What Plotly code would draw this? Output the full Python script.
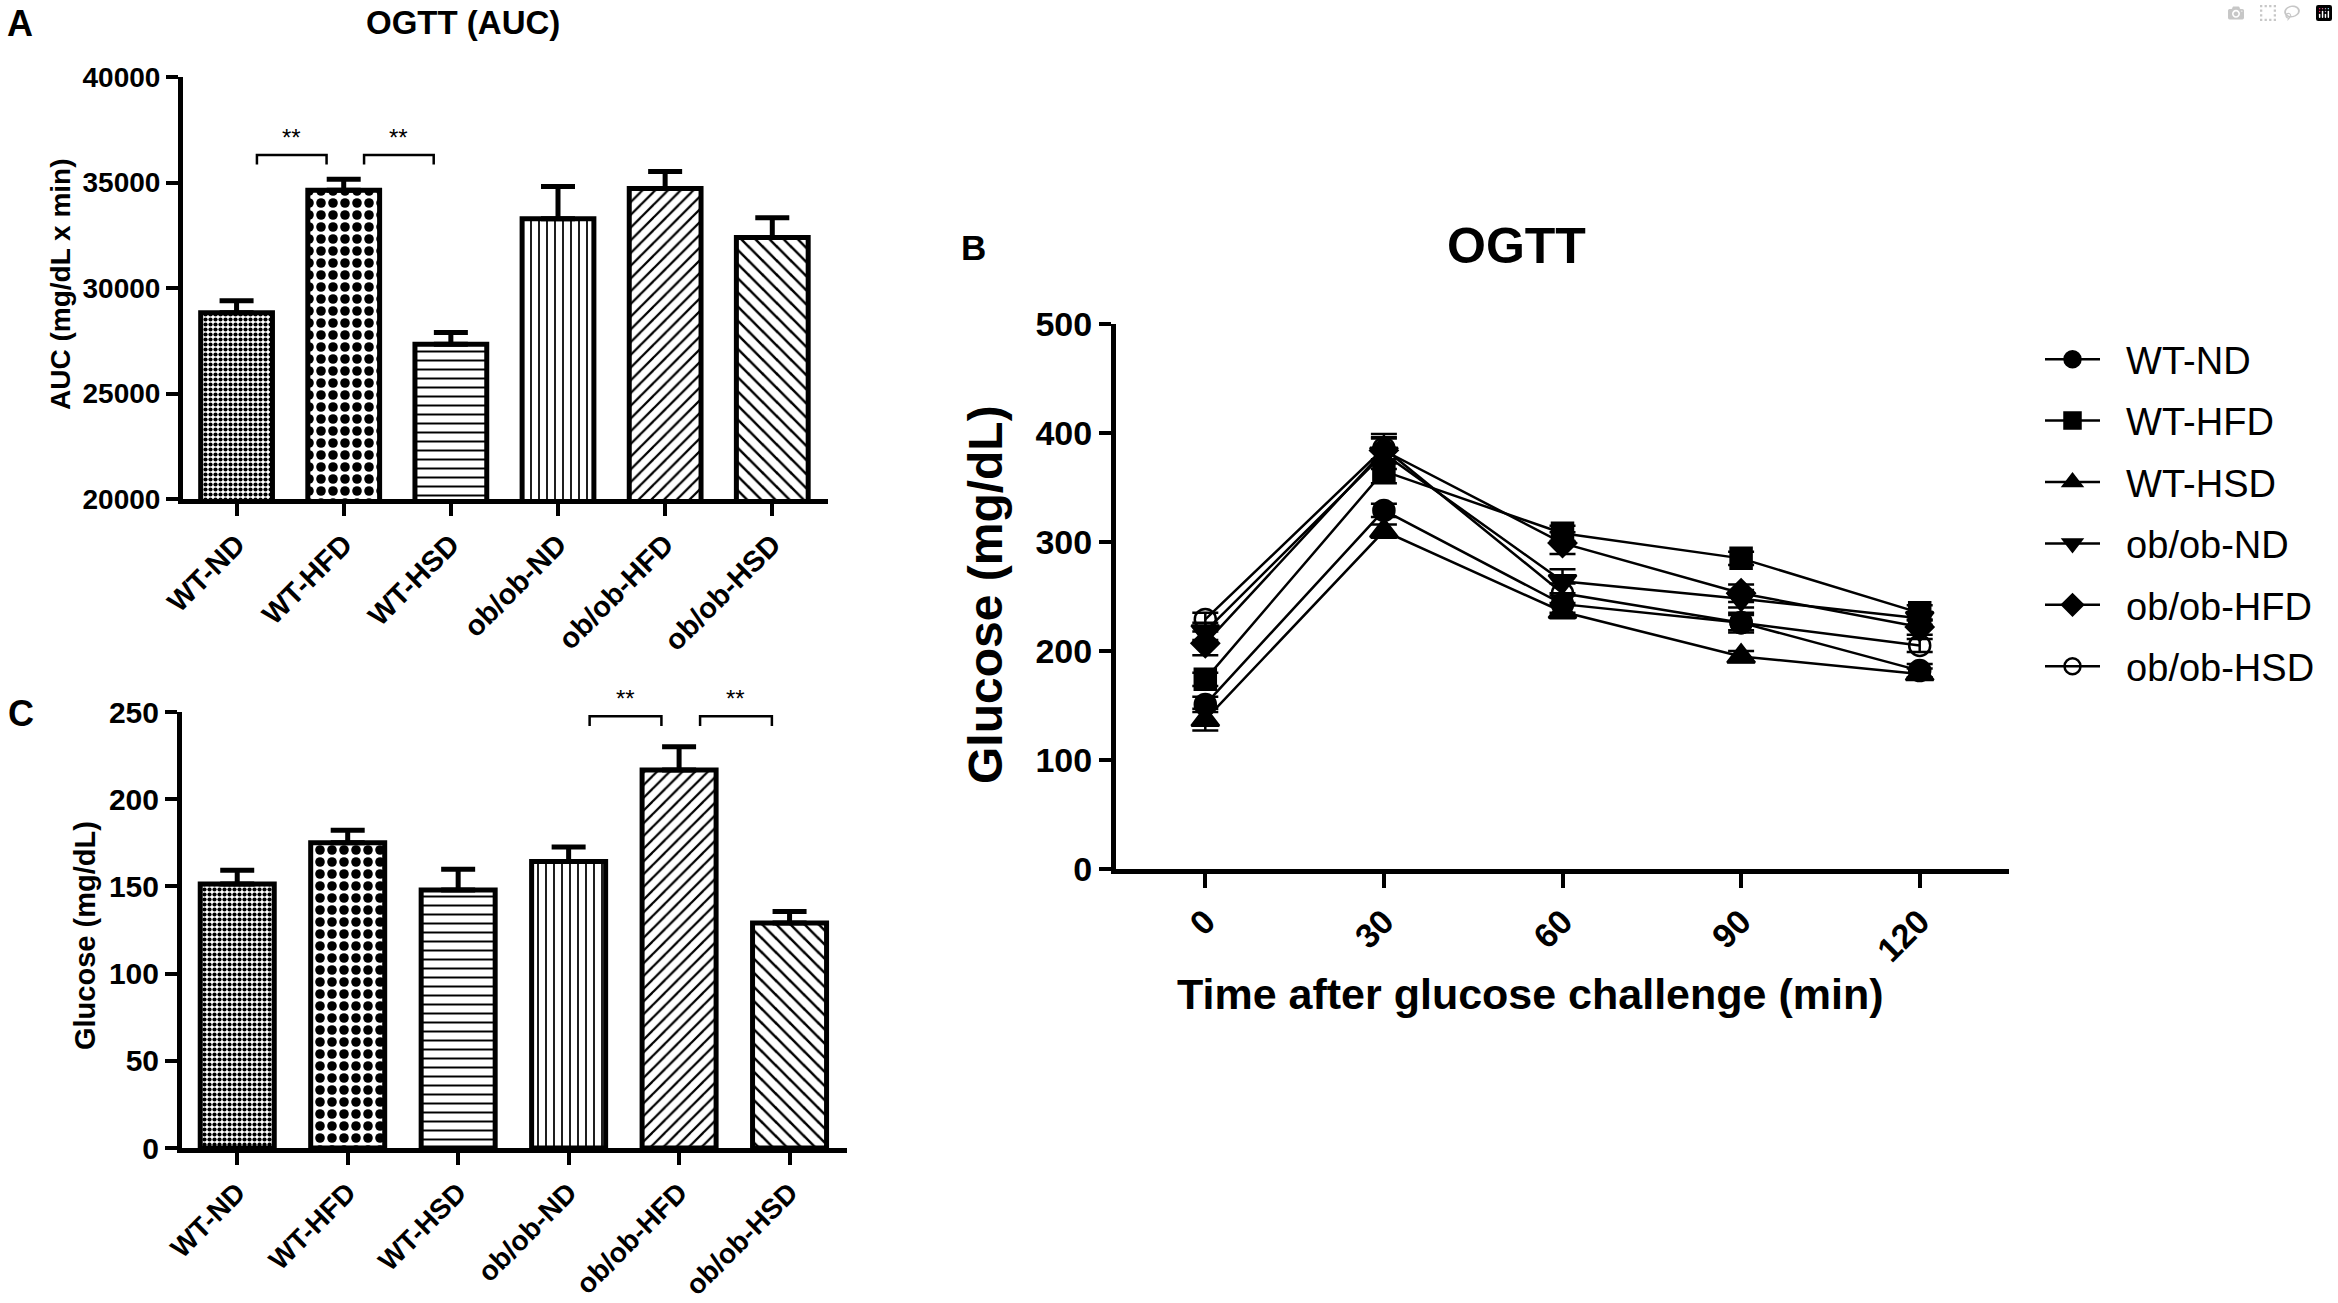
import plotly.graph_objects as go

W, H = 2338, 1303
FONT = "Liberation Sans, Arial, sans-serif"

groups = ['WT-ND', 'WT-HFD', 'WT-HSD', 'ob/ob-ND', 'ob/ob-HFD', 'ob/ob-HSD']

# A: OGTT area under curve (mg/dL x min), mean and SEM
auc_mean = [28830, 34630, 27330, 33280, 34720, 32390]
auc_sem = [560, 520, 560, 1530, 800, 940]
auc_sig = [(0, 1, 36300), (1, 2, 36300)]   # (group a, group b, bracket height)

# C: fasting glucose (mg/dL)
fbg_mean = [151.4, 175.0, 147.9, 164.3, 216.7, 129.0]
fbg_sem = [7.8, 7.2, 11.9, 8.3, 13.4, 6.6]
fbg_sig = [(3, 4, 247.5), (4, 5, 247.5)]

# B: OGTT time course (mg/dL)
time_min = [0, 30, 60, 90, 120]
wt_nd = [151, 329, 243, 226, 182]
wt_nd_err = [7, 6, 8, 9, 6]
wt_hfd = [174, 365, 308, 285, 235]
wt_hfd_err = [6, 11, 7, 6, 7]
wt_hsd = [137, 310, 236, 195, 179]
wt_hsd_err = [10, 6, 6, 5, 5]
ob_nd = [218, 381, 264, 248, 230]
ob_nd_err = [8, 14, 11, 8, 6]
ob_hfd = [207, 384, 299, 253, 222]
ob_hfd_err = [11, 12, 10, 8, 7]
ob_hsd = [229, 386, 253, 226, 205]
ob_hsd_err = [6, 13, 9, 7, 6]


def px(x):
    return x / W


def py(y):
    return 1 - y / H


fig = go.Figure()

# bar fill patterns: fine checker, coarse checker, horizontal, vertical, hatch /, hatch \
bar_pattern = dict(shape=['.', '.', '-', '|', '/', '\\'],
                   size=[5, 12, 9, 8, 9, 10],
                   solidity=[0.55, 0.5, 0.22, 0.22, 0.25, 0.25],
                   fgcolor='black', bgcolor='white', fillmode='replace')
xs = list(range(len(groups)))


def add_bars(mean, sem, xa, ya):
    fig.add_trace(go.Bar(x=xs, y=mean, width=0.67, xaxis=xa, yaxis=ya,
                         marker=dict(color='white', line=dict(color='black', width=5),
                                     pattern=bar_pattern),
                         error_y=dict(type='data', array=sem, arrayminus=[0] * len(sem),
                                      symmetric=False, color='black', thickness=5, width=17),
                         showlegend=False))


add_bars(auc_mean, auc_sem, 'x', 'y')
add_bars(fbg_mean, fbg_sem, 'x3', 'y3')

# B: time course lines
series = [('WT-ND', wt_nd, wt_nd_err, 'circle'),
          ('WT-HFD', wt_hfd, wt_hfd_err, 'square'),
          ('WT-HSD', wt_hsd, wt_hsd_err, 'triangle-up'),
          ('ob/ob-ND', ob_nd, ob_nd_err, 'triangle-down'),
          ('ob/ob-HFD', ob_hfd, ob_hfd_err, 'diamond'),
          ('ob/ob-HSD', ob_hsd, ob_hsd_err, 'circle-open')]
for name, vals, errs, sym in series:
    fig.add_trace(go.Scatter(x=time_min, y=vals, name='\u00a0\u00a0' + name, legendgroup=name,
                             mode='lines+markers', xaxis='x2', yaxis='y2',
                             line=dict(color='black', width=2.5),
                             marker=dict(symbol=sym, size=21 if 'triangle' not in sym else 24,
                                         color='black', line=dict(color='black', width=2.5)),
                             error_y=dict(type='data', array=errs, color='black',
                                          thickness=2.5, width=13)))

# significance brackets
def add_brackets(sig, drop, xa, ya):
    for a, b, h in sig:
        x0, x1 = a + 0.19, b - 0.16
        fig.add_shape(type='path', xref=xa, yref=ya,
                      path=f'M {x0},{h - drop} L {x0},{h} L {x1},{h} L {x1},{h - drop}',
                      line=dict(color='black', width=2.5))
        fig.add_annotation(x=(x0 + x1) / 2, y=h, xref=xa, yref=ya, text='**',
                           showarrow=False, yanchor='bottom', yshift=2,
                           font=dict(family=FONT, size=24, color='black'))


add_brackets(auc_sig, 450, 'x', 'y')
add_brackets(fbg_sig, 5.5, 'x3', 'y3')

axis_common = dict(showline=True, linewidth=5, linecolor='black', showgrid=False,
                   zeroline=False, ticks='outside', tickwidth=4, tickcolor='black',
                   fixedrange=True, automargin=False)
cat_axis = dict(axis_common, tickvals=xs, ticktext=groups, tickangle=-45, ticklen=12,
                range=[-0.5, 5.52], ticklabelstandoff=0)

fig.update_layout(
    template='none',
    width=W, height=H, autosize=False,
    margin=dict(l=0, r=0, t=0, b=0, pad=0),
    paper_bgcolor='white', plot_bgcolor='white',
    font=dict(family=FONT, color='black'),
    xaxis=dict(cat_axis, domain=[px(183), px(828)], anchor='y',
               tickfont=dict(size=29, weight='bold')),
    yaxis=dict(axis_common, domain=[py(499), py(77)], anchor='x', range=[20000, 40000],
               tick0=20000, dtick=5000, tickformat='d', ticklen=12,
               tickfont=dict(size=28, weight='bold'), ticklabelstandoff=0),
    xaxis3=dict(cat_axis, domain=[px(182), px(847)], anchor='y3',
                tickfont=dict(size=28, weight='bold')),
    yaxis3=dict(axis_common, domain=[py(1148), py(712)], anchor='x3', range=[0, 250],
                tick0=0, dtick=50, ticklen=12, tickfont=dict(size=30, weight='bold'),
                ticklabelstandoff=0),
    xaxis2=dict(axis_common, domain=[px(1116), px(2009)], anchor='y2', range=[-15, 135],
                tickvals=time_min, tickangle=-45, ticklen=14,
                tickfont=dict(size=34, weight='bold'), ticklabelstandoff=0),
    yaxis2=dict(axis_common, domain=[py(869), py(324)], anchor='x2', range=[0, 500],
                tick0=0, dtick=100, ticklen=12, tickfont=dict(size=34, weight='bold'),
                ticklabelstandoff=0),
    legend=dict(x=px(2040), y=py(328), xanchor='left', yanchor='top',
                font=dict(family=FONT, size=38), itemwidth=55, tracegroupgap=9,
                bgcolor='rgba(0,0,0,0)'),
)

texts = [
    ('A', 20, 24, 36, 0),
    ('OGTT (AUC)', 463, 22, 33, 0),
    ('AUC (mg/dL x min)', 60, 285, 28, -90),
    ('C', 21, 713, 36, 0),
    ('Glucose (mg/dL)', 85, 936, 29, -90),
    ('B', 973, 248, 35, 0),
    ('OGTT', 1516, 246, 50, 0),
    ('Glucose (mg/dL)', 985, 595, 48, -90),
    ('Time after glucose challenge (min)', 1530, 994, 43, 0),
]
for t, x, y, s, ang in texts:
    fig.add_annotation(x=px(x), y=py(y), xref='paper', yref='paper', text=t,
                       showarrow=False, textangle=ang, xanchor='center', yanchor='middle',
                       font=dict(family=FONT, size=s, weight='bold', color='black'))

fig.write_html("out.html", post_script="document.body.style.margin='0px';")
